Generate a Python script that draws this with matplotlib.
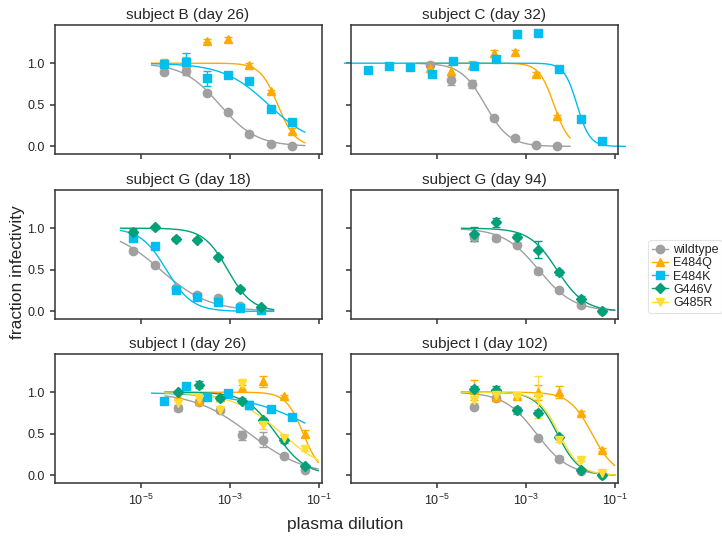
import numpy as np
import matplotlib
matplotlib.use("Agg")
import matplotlib.pyplot as plt
from matplotlib.lines import Line2D

plt.rcParams['font.family'] = ['Liberation Sans', 'DejaVu Sans']
plt.rcParams['mathtext.default'] = 'regular'
plt.rcParams['text.color'] = '#262626'
plt.rcParams['axes.labelcolor'] = '#262626'
plt.rcParams['xtick.color'] = '#262626'
plt.rcParams['ytick.color'] = '#262626'

# ---------------- data ----------------
viruses = ['wildtype', 'E484Q', 'E484K', 'G446V', 'G485R']
colors = {'wildtype': '#A0A0A0', 'E484Q': '#FFAA00', 'E484K': '#00BEF0',
          'G446V': '#00A078', 'G485R': '#FFDE32'}
markers = {'wildtype': 'o', 'E484Q': '^', 'E484K': 's', 'G446V': 'D', 'G485R': 'v'}

panel_titles = ['subject B (day 26)', 'subject C (day 32)',
                'subject G (day 18)', 'subject G (day 94)',
                'subject I (day 26)', 'subject I (day 102)']

# dilution series (fraction plasma)
conc_40 = [3.43e-5, 1.03e-4, 3.09e-4, 9.26e-4, 2.78e-3, 8.33e-3, 2.5e-2]
conc_20 = [6.86e-5, 2.06e-4, 6.17e-4, 1.85e-3, 5.56e-3, 1.67e-2, 5.0e-2]
conc_200 = [6.86e-6, 2.06e-5, 6.17e-5, 1.85e-4, 5.56e-4, 1.67e-3, 5.0e-3]
conc_20_long = [2.82e-7, 8.47e-7, 2.54e-6, 7.62e-6, 2.29e-5, 6.86e-5,
                2.06e-4, 6.17e-4, 1.85e-3, 5.56e-3, 1.67e-2, 5.0e-2]

# subject B (day 26)
B26_wt = [0.90, 0.91, 0.64, 0.41, 0.15, 0.03, 0.00]
B26_wt_err = [0.02, 0.05, 0.02, 0.02, 0.02, 0.01, 0.01]
B26_Q = [1.00, 1.00, 1.27, 1.29, 0.98, 0.66, 0.19]
B26_Q_err = [0.05, 0.07, 0.02, 0.03, 0.02, 0.02, 0.03]
B26_K = [0.99, 1.01, 0.82, 0.86, 0.78, 0.45, 0.29]
B26_K_err = [0.02, 0.11, 0.09, 0.02, 0.03, 0.02, 0.03]

# subject C (day 32)
C32_wt = [0.98, 0.80, 0.75, 0.34, 0.10, 0.02, 0.00]
C32_wt_err = [0.03, 0.06, 0.05, 0.02, 0.02, 0.01, 0.01]
C32_Q = [0.94, 0.91, 0.98, 1.12, 1.13, 0.87, 0.36]
C32_Q_err = [0.05, 0.07, 0.05, 0.04, 0.03, 0.03, 0.02]
C32_K = [0.92, 0.97, 0.95, 0.87, 1.03, 0.97, 1.05, 1.35, 1.36, 0.93, 0.33, 0.07]
C32_K_err = [0.02, 0.02, 0.02, 0.02, 0.02, 0.02, 0.02, 0.02, 0.02, 0.03, 0.02, 0.02]

# subject G (day 18)
G18_wt = [0.73, 0.56, 0.28, 0.20, 0.16, 0.06, 0.03]
G18_wt_err = [0.03, 0.02, 0.02, 0.02, 0.03, 0.02, 0.02]
G18_K = [0.88, 0.78, 0.26, 0.17, 0.11, 0.04, 0.02]
G18_K_err = [0.03, 0.02, 0.03, 0.02, 0.02, 0.02, 0.02]
G18_V = [0.96, 1.01, 0.87, 0.86, 0.65, 0.27, 0.05]
G18_V_err = [0.03, 0.02, 0.03, 0.02, 0.02, 0.02, 0.02]

# subject G (day 94)
G94_wt = [0.89, 0.88, 0.80, 0.48, 0.26, 0.08, 0.01]
G94_wt_err = [0.04, 0.04, 0.02, 0.03, 0.02, 0.02, 0.01]
G94_V = [0.93, 1.07, 0.90, 0.74, 0.47, 0.15, 0.01]
G94_V_err = [0.09, 0.05, 0.03, 0.10, 0.03, 0.03, 0.02]

# subject I (day 26)
I26_wt = [0.81, 0.88, 0.78, 0.48, 0.43, 0.23, 0.07]
I26_wt_err = [0.04, 0.02, 0.02, 0.05, 0.09, 0.02, 0.02]
I26_Q = [0.95, 0.89, 0.94, 1.05, 1.13, 0.95, 0.50]
I26_Q_err = [0.03, 0.03, 0.02, 0.04, 0.07, 0.02, 0.04]
I26_K = [0.89, 1.08, 0.94, 0.99, 0.85, 0.80, 0.70]
I26_K_err = [0.02, 0.02, 0.02, 0.02, 0.05, 0.02, 0.03]
I26_V = [1.00, 1.09, 0.93, 0.90, 0.66, 0.42, 0.11]
I26_V_err = [0.02, 0.04, 0.03, 0.03, 0.03, 0.03, 0.02]
I26_R = [0.87, 0.92, 0.79, 1.10, 0.60, 0.45, 0.32]
I26_R_err = [0.05, 0.03, 0.04, 0.06, 0.04, 0.03, 0.03]

# subject I (day 102)
I102_wt = [0.82, 0.93, 0.78, 0.45, 0.20, 0.05, 0.01]
I102_wt_err = [0.02, 0.02, 0.03, 0.02, 0.03, 0.01, 0.01]
I102_Q = [1.03, 0.94, 0.95, 1.00, 1.00, 0.75, 0.31]
I102_Q_err = [0.12, 0.05, 0.02, 0.09, 0.07, 0.02, 0.02]
I102_V = [1.04, 1.03, 0.78, 0.75, 0.46, 0.06, 0.01]
I102_V_err = [0.04, 0.04, 0.04, 0.03, 0.02, 0.01, 0.01]
I102_R = [0.91, 0.97, 0.95, 0.94, 0.42, 0.19, 0.03]
I102_R_err = [0.04, 0.02, 0.02, 0.25, 0.02, 0.02, 0.02]

# fitted Hill-curve parameters (midpoint, slope)
B26_fit = {'wildtype': (6.0e-4, 1.05), 'E484Q': (1.2e-2, 2.2), 'E484K': (7.5e-3, 0.85)}
C32_fit = {'wildtype': (1.2e-4, 1.6), 'E484Q': (4.2e-3, 2.6), 'E484K': (1.38e-2, 3.0)}
G18_fit = {'wildtype': (2.8e-5, 0.8), 'E484K': (3.8e-5, 1.5), 'G446V': (9.0e-4, 1.6)}
G94_fit = {'wildtype': (1.9e-3, 1.1), 'G446V': (4.9e-3, 1.4)}
I26_fit = {'wildtype': (2.8e-3, 0.7), 'E484Q': (4.5e-2, 2.2), 'E484K': (0.14, 0.5),
           'G446V': (1.1e-2, 1.3), 'G485R': (1.5e-2, 0.8)}
I102_fit = {'wildtype': (1.7e-3, 1.2), 'E484Q': (3.0e-2, 1.7),
            'G446V': (5.0e-3, 1.8), 'G485R': (5.5e-3, 1.8)}

panels = [
    [('wildtype', conc_40, B26_wt, B26_wt_err), ('E484Q', conc_40, B26_Q, B26_Q_err),
     ('E484K', conc_40, B26_K, B26_K_err)],
    [('wildtype', conc_200, C32_wt, C32_wt_err), ('E484Q', conc_200, C32_Q, C32_Q_err),
     ('E484K', conc_20_long, C32_K, C32_K_err)],
    [('wildtype', conc_200, G18_wt, G18_wt_err), ('E484K', conc_200, G18_K, G18_K_err),
     ('G446V', conc_200, G18_V, G18_V_err)],
    [('wildtype', conc_20, G94_wt, G94_wt_err), ('G446V', conc_20, G94_V, G94_V_err)],
    [('wildtype', conc_20, I26_wt, I26_wt_err), ('E484Q', conc_20, I26_Q, I26_Q_err),
     ('E484K', conc_40, I26_K, I26_K_err), ('G446V', conc_20, I26_V, I26_V_err),
     ('G485R', conc_20, I26_R, I26_R_err)],
    [('wildtype', conc_20, I102_wt, I102_wt_err), ('E484Q', conc_20, I102_Q, I102_Q_err),
     ('G446V', conc_20, I102_V, I102_V_err), ('G485R', conc_20, I102_R, I102_R_err)],
]
fits = [B26_fit, C32_fit, G18_fit, G94_fit, I26_fit, I102_fit]

# ---------------- figure ----------------
W, H = 722, 536
fig = plt.figure(figsize=(W / 100, H / 100), dpi=100)
lefts = [54.5 / W, 351 / W]
width = 267 / W
bottoms = [381.7 / H, 216.7 / H, 52.7 / H]
height = 129.4 / H

axes = []
first = None
for i in range(6):
    r, c = divmod(i, 2)
    ax = fig.add_axes([lefts[c], bottoms[r], width, height],
                      sharex=first, sharey=first)
    if first is None:
        first = ax
    axes.append(ax)

for i, ax in enumerate(axes):
    r, c = divmod(i, 2)
    for (virus, conc, vals, err) in panels[i]:
        col = colors[virus]
        conc = np.asarray(conc)
        ax.errorbar(conc, vals, yerr=err, fmt=markers[virus], color=col,
                    ms=6 if markers[virus] != 'D' else 5.5, capsize=3,
                    elinewidth=1, capthick=1, zorder=3)
        m, s = fits[i][virus]
        lo, hi = np.log10(conc.min()), np.log10(conc.max())
        ext = 0.1 * (hi - lo)
        xs = np.logspace(lo - ext, hi + ext, 300)
        ys = 1.0 / (1.0 + (xs / m) ** s)
        ax.plot(xs, ys, color=col, lw=1, clip_on=False, zorder=2)
    ax.set_xscale('log')
    ax.set_title(panel_titles[i], fontsize=11, pad=4)
    for sp in ax.spines.values():
        sp.set_color('#333333')
        sp.set_linewidth(1.1)
    ax.tick_params(direction='out', length=3.5, width=1.1, labelsize=9,
                   color='#333333')
    if r != 2:
        ax.tick_params(labelbottom=False)
    if c != 0:
        ax.tick_params(labelleft=False)

first.set_xlim(10 ** -6.93, 10 ** -0.94)
first.set_xticks([1e-5, 1e-3, 1e-1])
first.xaxis.set_minor_locator(matplotlib.ticker.NullLocator())
first.set_xticklabels(['$10^{-5}$', '$10^{-3}$', '$10^{-1}$'])
first.set_ylim(-0.095, 1.46)
first.set_yticks([0.0, 0.5, 1.0])
first.set_yticklabels(['0.0', '0.5', '1.0'])

fig.text(345 / W, 1 - 524 / H, 'plasma dilution', fontsize=12.5,
         ha='center', va='center')
fig.text(18 / W, 1 - 272 / H, 'fraction infectivity', fontsize=12.5,
         ha='center', va='center', rotation=90)

handles = [Line2D([], [], color=colors[v], marker=markers[v], lw=1,
                  ms=6 if markers[v] != 'D' else 5.5) for v in viruses]
leg = fig.legend(handles, viruses, loc='center left',
                 bbox_to_anchor=(648 / W, 1 - 276.5 / H), fontsize=9,
                 labelspacing=0.1, handlelength=1.3, handletextpad=0.4,
                 borderpad=0.3, borderaxespad=0, frameon=True)
leg.get_frame().set_edgecolor('#DDDDDD')
leg.get_frame().set_linewidth(0.8)

fig.savefig('out.png', dpi=100)
